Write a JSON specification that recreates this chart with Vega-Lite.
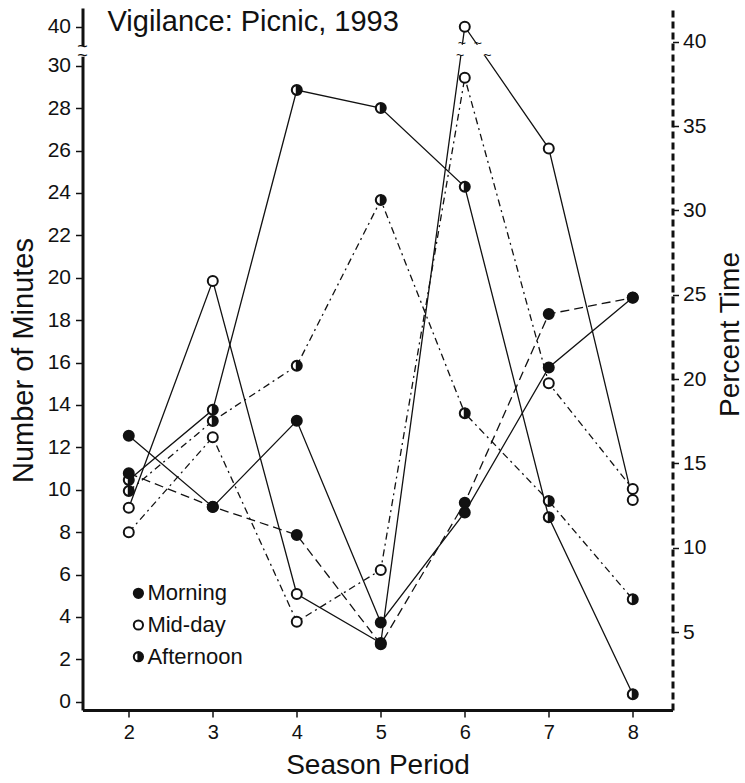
{
  "$schema": "https://vega.github.io/schema/vega-lite/v6.json",
  "width": 590,
  "height": 702,
  "autosize": {"type": "none"},
  "padding": {"left": 82.5, "top": 8, "right": 72.5, "bottom": 73},
  "background": "white",
  "config": {
    "font": "Liberation Sans",
    "view": {"stroke": null},
    "axis": {
      "grid": false,
      "labelFont": "Liberation Sans",
      "titleFont": "Liberation Sans",
      "labelFontSize": 21,
      "titleFontSize": 28,
      "titleFontWeight": "normal",
      "labelColor": "#111",
      "titleColor": "#111",
      "domainColor": "#111",
      "tickColor": "#111"
    }
  },
  "title": {
    "text": "Vigilance: Picnic, 1993",
    "anchor": "start",
    "frame": "group",
    "fontSize": 29,
    "fontWeight": "normal",
    "font": "Liberation Sans",
    "color": "#111",
    "offset": 0,
    "dx": 25,
    "dy": 52,
    "baseline": "alphabetic"
  },
  "datasets": {
    "vig": [
      {"period": "Morning", "season": 2, "minutes": 12.55, "percent": 14.41},
      {"period": "Morning", "season": 3, "minutes": 9.19, "percent": 12.43},
      {"period": "Morning", "season": 4, "minutes": 13.25, "percent": 10.76},
      {"period": "Morning", "season": 5, "minutes": 3.74, "percent": 4.27},
      {"period": "Morning", "season": 6, "minutes": 8.93, "percent": 12.67},
      {"period": "Morning", "season": 7, "minutes": 15.77, "percent": 23.86},
      {"period": "Morning", "season": 8, "minutes": 19.07, "percent": 24.83},
      {"period": "Mid-day", "season": 2, "minutes": 9.15, "percent": 10.91},
      {"period": "Mid-day", "season": 3, "minutes": 19.85, "percent": 16.55},
      {"period": "Mid-day", "season": 4, "minutes": 5.08, "percent": 5.61},
      {"period": "Mid-day", "season": 5, "minutes": 2.77, "percent": 8.68},
      {"period": "Mid-day", "season": 6, "minutes": 40, "percent": 37.88},
      {"period": "Mid-day", "season": 7, "minutes": 26.1, "percent": 19.75},
      {"period": "Mid-day", "season": 8, "minutes": 9.51, "percent": 13.48},
      {"period": "Afternoon", "season": 2, "minutes": 10.46, "percent": 13.36},
      {"period": "Afternoon", "season": 3, "minutes": 13.77, "percent": 17.51},
      {"period": "Afternoon", "season": 4, "minutes": 28.85, "percent": 20.79},
      {"period": "Afternoon", "season": 5, "minutes": 28.0, "percent": 30.62},
      {"period": "Afternoon", "season": 6, "minutes": 24.29, "percent": 17.97},
      {"period": "Afternoon", "season": 7, "minutes": 8.7, "percent": 12.77},
      {"period": "Afternoon", "season": 8, "minutes": 0.35, "percent": 6.94}
    ]
  },
  "data": {"name": "vig"},
  "encoding": {
    "x": {
      "field": "season",
      "type": "quantitative",
      "scale": {"domain": [1.449, 8.473], "nice": false, "zero": false},
      "axis": {
        "title": "Season Period",
        "values": [2, 3, 4, 5, 6, 7, 8],
        "format": "d",
        "domainWidth": 3,
        "tickWidth": 1.5,
        "tickSize": 7,
        "labelPadding": 5,
        "titlePadding": 9,
        "labelFontSize": 20
      }
    }
  },
  "layer": [
    {
      "mark": {"type": "line", "color": "#111", "strokeWidth": 1.3},
      "encoding": {
        "y": {
          "field": "minutes",
          "type": "quantitative",
          "scale": {"domain": [-0.39, 30, 40, 44.8], "range": [702, 57.7, 18.7, 0], "zero": false, "nice": false},
          "axis": {
            "title": "Number of Minutes",
            "titleFontSize": 29,
            "titleX": -59.5,
            "titleY": 352,
            "titleAngle": 270,
            "titleAlign": "center",
            "titleBaseline": "middle",
            "values": [0, 2, 4, 6, 8, 10, 12, 14, 16, 18, 20, 22, 24, 26, 28, 30, 40],
            "domainWidth": 3,
            "tickSize": 7,
            "tickWidth": 1.5,
            "labelPadding": 5
          }
        },
        "detail": {"field": "period", "type": "nominal"}
      }
    },
    {
      "mark": {"type": "line", "color": "#111", "strokeWidth": 1.3},
      "encoding": {
        "y": {
          "field": "percent",
          "type": "quantitative",
          "scale": {"domain": [0.374, 42.01], "zero": false, "nice": false},
          "axis": {
            "orient": "right",
            "title": "Percent Time",
            "titleX": 58,
            "titleY": 326,
            "titleAngle": 270,
            "titleAlign": "center",
            "titleBaseline": "middle",
            "values": [5, 10, 15, 20, 25, 30, 35, 40],
            "domainWidth": 3,
            "domainDash": [7, 4],
            "tickSize": 6,
            "tickWidth": 1.5,
            "labelPadding": 4
          }
        },
        "strokeDash": {
          "field": "period",
          "type": "nominal",
          "scale": {"domain": ["Afternoon", "Mid-day", "Morning"], "range": [[7, 4, 2, 4], [7, 4, 2, 4], [9, 5]]},
          "legend": null
        },
        "detail": {"field": "period", "type": "nominal"}
      }
    },
    {
      "transform": [{"filter": "datum.season == 2 && datum.period == 'Morning'"}],
      "layer": [
        {
          "mark": {"type": "rect", "color": "white"},
          "encoding": {
            "x": {"datum": 1.41},
            "x2": {"datum": 1.49},
            "y": {"datum": 32.3, "type": "quantitative", "scale": {"domain": [-0.39, 30, 40, 44.8], "range": [702, 57.7, 18.7, 0], "zero": false, "nice": false}, "axis": null},
            "y2": {"datum": 35.0}
          }
        },
        {
          "mark": {"type": "rect", "color": "white"},
          "encoding": {
            "x": {"datum": 5.9},
            "x2": {"datum": 6.32},
            "y": {"datum": 32.7, "type": "quantitative"},
            "y2": {"datum": 35.4}
          }
        },
        {
          "mark": {"type": "text", "text": "~", "fontSize": 18, "color": "#111", "baseline": "middle", "align": "center"},
          "encoding": {"x": {"datum": 1.449}, "y": {"datum": 32.6, "type": "quantitative"}}
        },
        {
          "mark": {"type": "text", "text": "~", "fontSize": 18, "color": "#111", "baseline": "middle", "align": "center"},
          "encoding": {"x": {"datum": 1.449}, "y": {"datum": 34.8, "type": "quantitative"}}
        },
        {
          "mark": {"type": "text", "text": "~", "fontSize": 14, "color": "#111", "baseline": "middle", "align": "center"},
          "encoding": {"x": {"datum": 5.965}, "y": {"datum": 35.5, "type": "quantitative"}}
        },
        {
          "mark": {"type": "text", "text": "~", "fontSize": 14, "color": "#111", "baseline": "middle", "align": "center"},
          "encoding": {"x": {"datum": 6.155}, "y": {"datum": 35.5, "type": "quantitative"}}
        },
        {
          "mark": {"type": "text", "text": "~", "fontSize": 14, "color": "#111", "baseline": "middle", "align": "center"},
          "encoding": {"x": {"datum": 5.945}, "y": {"datum": 32.5, "type": "quantitative"}}
        },
        {
          "mark": {"type": "text", "text": "~", "fontSize": 14, "color": "#111", "baseline": "middle", "align": "center"},
          "encoding": {"x": {"datum": 6.27}, "y": {"datum": 32.5, "type": "quantitative"}}
        }
      ]
    },
    {
      "mark": {"type": "point", "shape": "circle", "filled": true, "color": "white", "size": 100, "strokeWidth": 0, "opacity": 1},
      "encoding": {
        "y": {"field": "minutes", "type": "quantitative", "scale": {"domain": [-0.39, 30, 40, 44.8], "range": [702, 57.7, 18.7, 0], "zero": false, "nice": false}, "axis": null}
      }
    },
    {
      "mark": {"type": "point", "shape": "circle", "filled": true, "color": "white", "size": 100, "strokeWidth": 0, "opacity": 1},
      "encoding": {
        "y": {"field": "percent", "type": "quantitative", "scale": {"domain": [0.374, 42.01], "zero": false, "nice": false}, "axis": null}
      }
    },
    {
      "mark": {"type": "point", "filled": true, "stroke": "#111", "strokeWidth": 2, "size": 100, "opacity": 1},
      "encoding": {
        "y": {"field": "minutes", "type": "quantitative", "scale": {"domain": [-0.39, 30, 40, 44.8], "range": [702, 57.7, 18.7, 0], "zero": false, "nice": false}, "axis": null},
        "shape": {
          "field": "period",
          "type": "nominal",
          "scale": {"domain": ["Morning", "Mid-day", "Afternoon"], "range": ["circle", "circle", "M1,0C1,0.5523,0.5523,1,0,1C-0.5523,1,-1,0.5523,-1,0C-1,-0.5523,-0.5523,-1,0,-1C0.5523,-1,1,-0.5523,1,0ZM0,-0.99C-0.5468,-0.99,-0.99,-0.5468,-0.99,0C-0.99,0.5468,-0.5468,0.99,0,0.99Z"]},
          "legend": {"title": null, "orient": "none", "legendX": 44.9, "legendY": 574.3, "labelFontSize": 22, "labelFont": "Liberation Sans", "labelColor": "#111", "rowPadding": 9.7, "labelOffset": -2, "symbolSize": 85, "symbolStrokeWidth": 2, "symbolOpacity": 1, "padding": 0}
        },
        "fill": {
          "field": "period",
          "type": "nominal",
          "scale": {"domain": ["Morning", "Mid-day", "Afternoon"], "range": ["#111", "white", "#111"]},
          "legend": {"title": null, "orient": "none", "legendX": 44.9, "legendY": 574.3, "labelFontSize": 22, "labelFont": "Liberation Sans", "labelColor": "#111", "rowPadding": 9.7, "labelOffset": -2, "symbolSize": 85, "symbolStrokeWidth": 2, "symbolOpacity": 1, "padding": 0}
        }
      }
    },
    {
      "mark": {"type": "point", "filled": true, "stroke": "#111", "strokeWidth": 2, "size": 100, "opacity": 1},
      "encoding": {
        "y": {"field": "percent", "type": "quantitative", "scale": {"domain": [0.374, 42.01], "zero": false, "nice": false}, "axis": null},
        "shape": {
          "field": "period",
          "type": "nominal",
          "scale": {"domain": ["Morning", "Mid-day", "Afternoon"], "range": ["circle", "circle", "M1,0C1,0.5523,0.5523,1,0,1C-0.5523,1,-1,0.5523,-1,0C-1,-0.5523,-0.5523,-1,0,-1C0.5523,-1,1,-0.5523,1,0ZM0,-0.99C-0.5468,-0.99,-0.99,-0.5468,-0.99,0C-0.99,0.5468,-0.5468,0.99,0,0.99Z"]},
          "legend": {"title": null, "orient": "none", "legendX": 44.9, "legendY": 574.3, "labelFontSize": 22, "labelFont": "Liberation Sans", "labelColor": "#111", "rowPadding": 9.7, "labelOffset": -2, "symbolSize": 85, "symbolStrokeWidth": 2, "symbolOpacity": 1, "padding": 0}
        },
        "fill": {
          "field": "period",
          "type": "nominal",
          "scale": {"domain": ["Morning", "Mid-day", "Afternoon"], "range": ["#111", "white", "#111"]},
          "legend": {"title": null, "orient": "none", "legendX": 44.9, "legendY": 574.3, "labelFontSize": 22, "labelFont": "Liberation Sans", "labelColor": "#111", "rowPadding": 9.7, "labelOffset": -2, "symbolSize": 85, "symbolStrokeWidth": 2, "symbolOpacity": 1, "padding": 0}
        }
      }
    }
  ],
  "resolve": {"scale": {"y": "independent"}}
}
